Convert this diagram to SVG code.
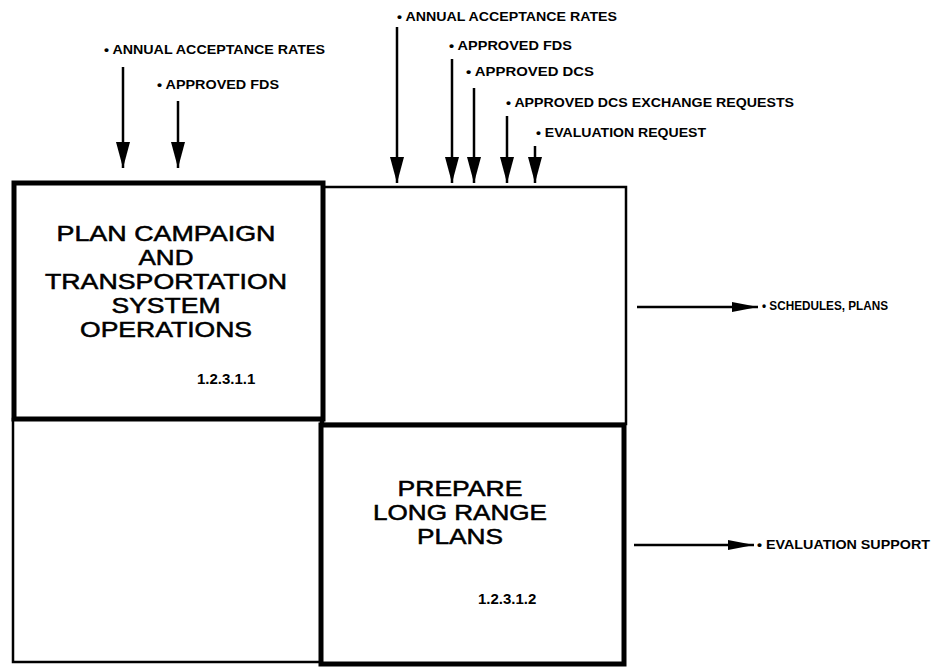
<svg xmlns="http://www.w3.org/2000/svg" width="936" height="668" viewBox="0 0 936 668">
<defs>
<marker id="ah" viewBox="0 0 26 14" refX="26" refY="7" markerWidth="26" markerHeight="14" markerUnits="userSpaceOnUse" orient="auto"><path d="M0,0 L26,7 L0,14 Z" fill="#000"/></marker>
<marker id="ao" viewBox="0 0 26 10" refX="26" refY="5" markerWidth="26" markerHeight="10" markerUnits="userSpaceOnUse" orient="auto"><path d="M0,0 L26,5 L0,10 Z" fill="#000"/></marker>
<style>
.thick{fill:none;stroke:#000;stroke-width:5}
.thin{fill:none;stroke:#000;stroke-width:2.5}
.title{font-family:"Liberation Sans",Arial,sans-serif;font-size:21.5px;text-anchor:middle;fill:#000;stroke:#000;stroke-width:0.5}
.num{font-family:"Liberation Sans",Arial,sans-serif;font-size:15px;font-weight:bold;fill:#000}
.lbl{font-family:"Liberation Sans",Arial,sans-serif;font-size:12px;font-weight:bold;fill:#000}
.arr{stroke:#000;stroke-width:2.5;fill:none}
</style>
</defs>
<rect width="936" height="668" fill="#fff"/>
<g id="box-top-right"><rect class="thin" x="323" y="187" width="303" height="237"/></g>
<g id="box-bottom-left"><rect class="thin" x="13" y="419" width="308" height="243"/></g>
<g id="node-1.2.3.1.1">
<rect class="thick" x="14" y="183" width="309" height="236"/>
<text class="title" x="166" y="241" textLength="219" lengthAdjust="spacingAndGlyphs">PLAN CAMPAIGN</text>
<text class="title" x="166" y="265" textLength="55" lengthAdjust="spacingAndGlyphs">AND</text>
<text class="title" x="166" y="289" textLength="242" lengthAdjust="spacingAndGlyphs">TRANSPORTATION</text>
<text class="title" x="166" y="313" textLength="109" lengthAdjust="spacingAndGlyphs">SYSTEM</text>
<text class="title" x="166" y="337" textLength="172" lengthAdjust="spacingAndGlyphs">OPERATIONS</text>
<text class="num" x="197" y="384">1.2.3.1.1</text>
</g>
<g id="node-1.2.3.1.2">
<rect class="thick" x="321" y="425" width="303" height="239"/>
<text class="title" x="460" y="496" textLength="125" lengthAdjust="spacingAndGlyphs">PREPARE</text>
<text class="title" x="460" y="520" textLength="174" lengthAdjust="spacingAndGlyphs">LONG RANGE</text>
<text class="title" x="460" y="544" textLength="86" lengthAdjust="spacingAndGlyphs">PLANS</text>
<text class="num" x="478" y="604">1.2.3.1.2</text>
</g>
<g id="labels">
<text class="lbl" x="104" y="54" textLength="221" lengthAdjust="spacingAndGlyphs">• ANNUAL ACCEPTANCE RATES</text>
<text class="lbl" x="157" y="89" textLength="122" lengthAdjust="spacingAndGlyphs">• APPROVED FDS</text>
<text class="lbl" x="397" y="21" textLength="220" lengthAdjust="spacingAndGlyphs">• ANNUAL ACCEPTANCE RATES</text>
<text class="lbl" x="449" y="50" textLength="123" lengthAdjust="spacingAndGlyphs">• APPROVED FDS</text>
<text class="lbl" x="466" y="76" textLength="128" lengthAdjust="spacingAndGlyphs">• APPROVED DCS</text>
<text class="lbl" x="506" y="107" textLength="288" lengthAdjust="spacingAndGlyphs">• APPROVED DCS EXCHANGE REQUESTS</text>
<text class="lbl" x="536" y="137" textLength="170" lengthAdjust="spacingAndGlyphs">• EVALUATION REQUEST</text>
<text class="lbl" x="762" y="310" textLength="126" lengthAdjust="spacingAndGlyphs">• SCHEDULES, PLANS</text>
<text class="lbl" x="757" y="549" textLength="173" lengthAdjust="spacingAndGlyphs">• EVALUATION SUPPORT</text>
</g>
<g id="connectors">
<line class="arr" x1="123" y1="67" x2="123" y2="168" marker-end="url(#ah)"/>
<line class="arr" x1="178" y1="101" x2="178" y2="168" marker-end="url(#ah)"/>
<line class="arr" x1="397" y1="27" x2="397" y2="183" marker-end="url(#ah)"/>
<line class="arr" x1="452" y1="59" x2="452" y2="183" marker-end="url(#ah)"/>
<line class="arr" x1="474" y1="88" x2="474" y2="183" marker-end="url(#ah)"/>
<line class="arr" x1="507" y1="116" x2="507" y2="183" marker-end="url(#ah)"/>
<line class="arr" x1="535" y1="146" x2="535" y2="183" marker-end="url(#ah)"/>
<line class="arr" x1="637" y1="307" x2="758" y2="307" marker-end="url(#ao)"/>
<line class="arr" x1="634" y1="545" x2="754" y2="545" marker-end="url(#ao)"/>
</g>
</svg>
